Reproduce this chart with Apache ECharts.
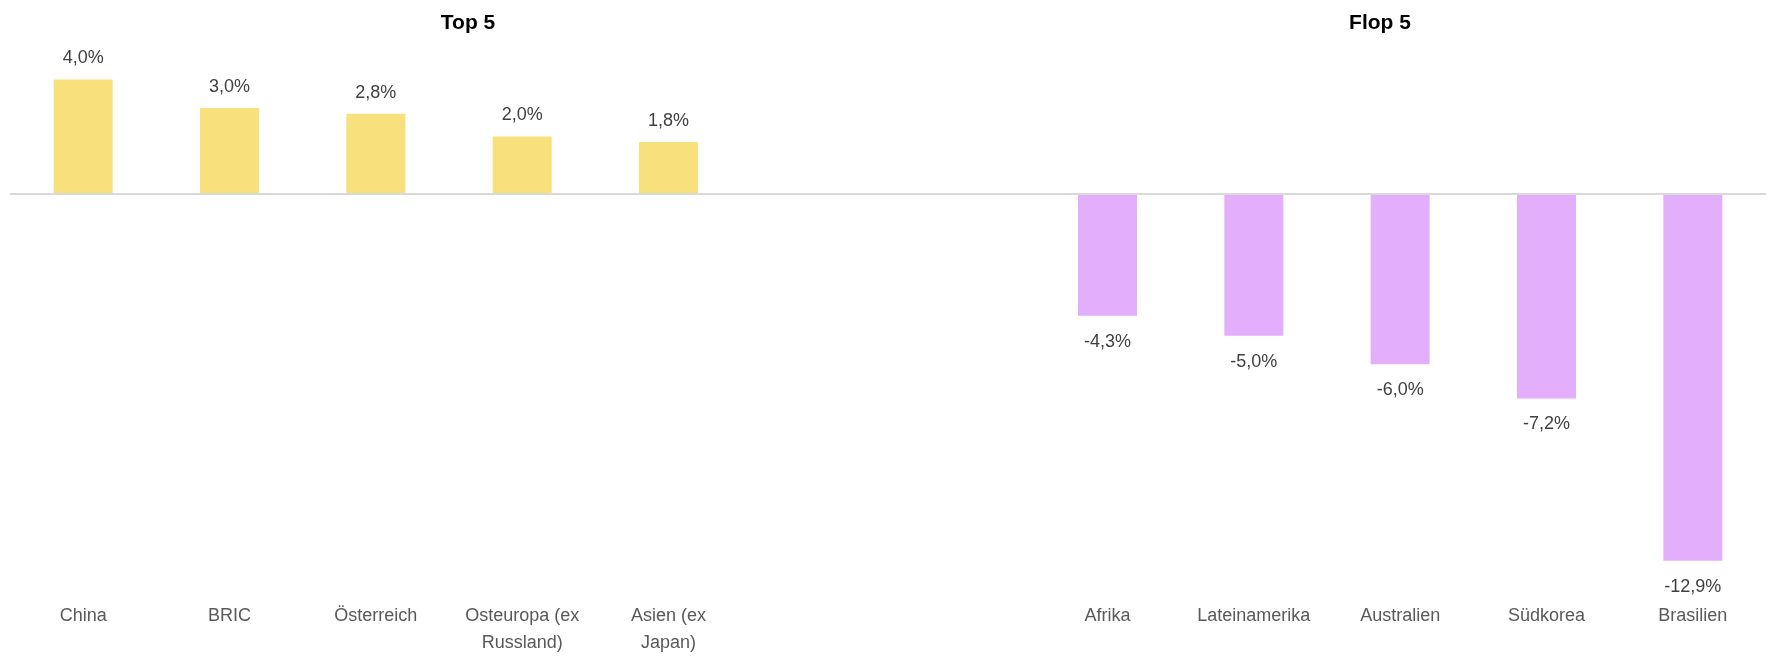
<!DOCTYPE html>
<html>
<head>
<meta charset="utf-8">
<script src="https://cdn.jsdelivr.net/npm/echarts@6/dist/echarts.min.js"></script>
<style>html,body{margin:0;padding:0;background:#fff}#c{width:1771px;height:657px}</style>
</head>
<body>
<div id="c"></div>
<script>
const topCategories = ['China', 'BRIC', 'Österreich', 'Osteuropa (ex\nRussland)', 'Asien (ex\nJapan)'];
const flopCategories = ['Afrika', 'Lateinamerika', 'Australien', 'Südkorea', 'Brasilien'];
const topValues = [4.0, 3.0, 2.8, 2.0, 1.8];
const flopValues = [-4.3, -5.0, -6.0, -7.2, -12.9];
const gapCategories = ['', ''];

const categories = topCategories.concat(gapCategories, flopCategories);
const gapNulls = gapCategories.map(() => null);
const topData = topValues.concat(gapNulls, flopValues.map(() => null));
const flopData = topValues.map(() => null).concat(gapNulls, flopValues);

const fmt = p => p.value == null ? '' : p.value.toFixed(1).replace('.', ',') + '%';
const font = 'Liberation Sans, Arial, sans-serif';

const chart = echarts.init(document.getElementById('c'));
chart.setOption({
  animation: false,
  title: [
    { text: 'Top 5', left: 463, top: 8, textAlign: 'center',
      textStyle: { fontFamily: font, fontSize: 21, fontWeight: 'bold', color: '#000' } },
    { text: 'Flop 5', left: 1375, top: 8, textAlign: 'center',
      textStyle: { fontFamily: font, fontSize: 21, fontWeight: 'bold', color: '#000' } }
  ],
  grid: { left: 10, right: 5, top: 51, bottom: 61 },
  xAxis: {
    type: 'category',
    data: categories,
    axisLine: { show: false, onZero: false },
    axisTick: { show: false },
    axisLabel: { interval: 0, margin: 11, color: '#595959', fontFamily: font, fontSize: 18, lineHeight: 27 }
  },
  yAxis: {
    type: 'value', min: -14, max: 5,
    show: false,
    splitLine: { show: false }
  },
  series: [
    {
      type: 'bar', data: topData, barWidth: 59, barGap: '-100%',
      itemStyle: { color: '#F8E17C' },
      label: { show: true, position: 'top', distance: 12, formatter: fmt,
        color: '#404040', fontFamily: font, fontSize: 18 },
      markLine: {
        silent: true, symbol: 'none', label: { show: false },
        lineStyle: { color: '#d9d9d9', width: 2, type: 'solid' },
        data: [{ yAxis: 0 }]
      },
      z: 2
    },
    {
      type: 'bar', data: flopData, barWidth: 59, barGap: '-100%',
      itemStyle: { color: '#E3AFFC' },
      label: { show: true, position: 'bottom', distance: 17, formatter: fmt,
        color: '#404040', fontFamily: font, fontSize: 18 },
      z: 2
    }
  ]
});
</script>
</body>
</html>
